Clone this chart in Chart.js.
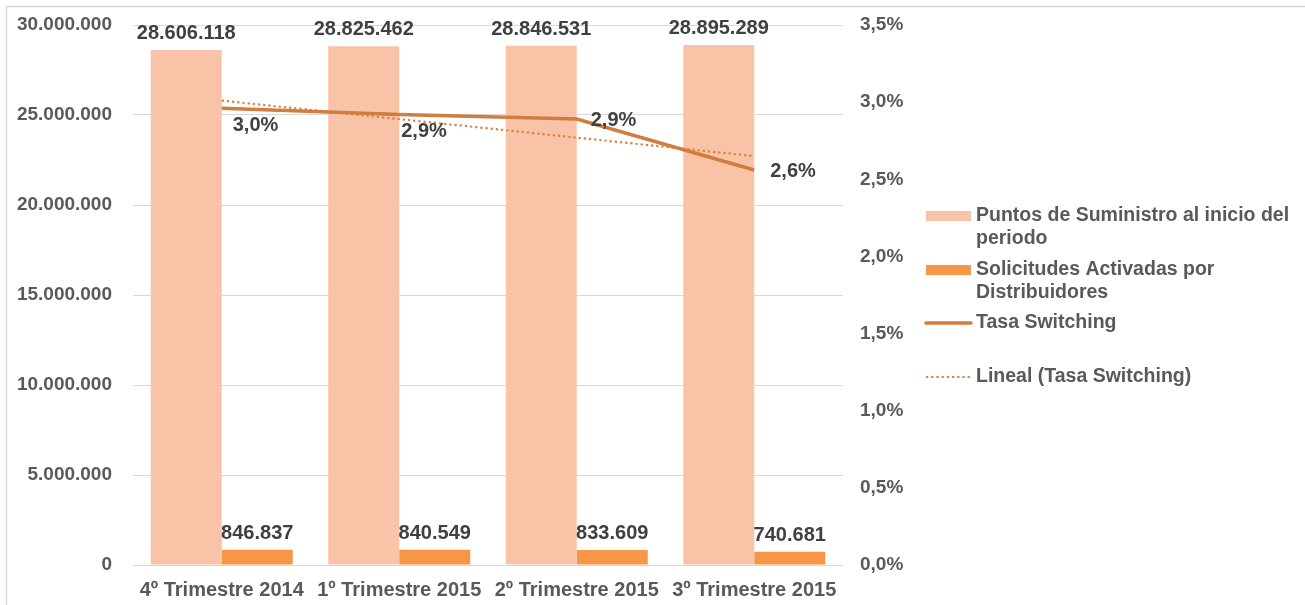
<!DOCTYPE html>
<html>
<head>
<meta charset="utf-8">
<script src="https://cdn.jsdelivr.net/npm/chart.js@4/dist/chart.umd.min.js"></script>
<style>
  html, body { margin: 0; padding: 0; background: #fff; }
  #wrap { position: relative; width: 1305px; height: 605px; }
</style>
</head>
<body>
<div id="wrap"><canvas id="switchingChart" width="1305" height="605"></canvas></div>
<script>
const categories = ["4º Trimestre 2014", "1º Trimestre 2015", "2º Trimestre 2015", "3º Trimestre 2015"];
const puntosSuministro = [28606118, 28825462, 28846531, 28895289];
const solicitudesActivadas = [846837, 840549, 833609, 740681];
const tasaSwitching = [2.96, 2.92, 2.89, 2.56];
const linealTasa = [3.01, 2.89, 2.77, 2.65];
const leftTicks = [0, 5000000, 10000000, 15000000, 20000000, 25000000, 30000000];
const rightTicks = [0, 0.5, 1.0, 1.5, 2.0, 2.5, 3.0, 3.5];

const FONT = "'Liberation Sans', Arial, sans-serif";
const AXIS_COLOR = "#595959";
const LABEL_COLOR = "#404040";

function fmtMiles(v) {
  return String(Math.round(v)).replace(/\B(?=(\d{3})+(?!\d))/g, ".");
}
function fmtPct(v) {
  return v.toFixed(1).replace(".", ",") + "%";
}

/* ===============================
   ETIQUETAS DE DATOS
================================ */
const dataLabelsPlugin = {
  id: "dataLabels",
  afterDatasetsDraw(chart) {
    const ctx = chart.ctx;
    ctx.save();
    ctx.font = "bold 20px " + FONT;
    ctx.fillStyle = LABEL_COLOR;

    // barras: centradas encima
    [0, 1].forEach(i => {
      const meta = chart.getDatasetMeta(i);
      meta.data.forEach((bar, j) => {
        ctx.textAlign = "center";
        ctx.textBaseline = "alphabetic";
        ctx.fillText(fmtMiles(chart.data.datasets[i].data[j]), bar.x, bar.y - 11);
      });
    });

    // tasa switching
    const offsets = [[11, 17], [2, 17], [14, 1], [16, 1]];
    const meta = chart.getDatasetMeta(2);
    meta.data.forEach((pt, j) => {
      ctx.textAlign = "left";
      ctx.textBaseline = "middle";
      ctx.fillText(fmtPct(tasaSwitching[j]), pt.x + offsets[j][0], pt.y + offsets[j][1]);
    });
    ctx.restore();
  }
};

/* ===============================
   LEYENDA + BORDE
================================ */
const sideLegendPlugin = {
  id: "sideLegend",
  beforeDraw(chart) {
    const ctx = chart.ctx;
    ctx.save();
    ctx.strokeStyle = "#D9D9D9";
    ctx.lineWidth = 1.5;
    ctx.beginPath();
    ctx.moveTo(6.5, 605);
    ctx.lineTo(6.5, 6.5);
    ctx.lineTo(1305, 6.5);
    ctx.stroke();
    ctx.restore();
  },
  afterDraw(chart) {
    const ctx = chart.ctx;
    const x0 = 926, x1 = 971, tx = 976, maxW = 325;
    const rows = [216, 270, 323, 377];
    ctx.save();
    ctx.font = "bold 19.5px " + FONT;
    ctx.textBaseline = "middle";
    ctx.textAlign = "left";

    chart.data.datasets.forEach((ds, i) => {
      const y = rows[i];
      if (ds.type === "bar") {
        ctx.fillStyle = ds.backgroundColor;
        ctx.fillRect(x0, y - 5, x1 - x0, 10);
      } else {
        ctx.strokeStyle = ds.borderColor;
        ctx.lineWidth = ds.borderWidth;
        ctx.setLineDash(ds.borderDash || []);
        ctx.lineCap = ds.borderDash ? "butt" : "round";
        ctx.beginPath();
        ctx.moveTo(x0, y);
        ctx.lineTo(x1, y);
        ctx.stroke();
        ctx.setLineDash([]);
      }
      // texto con salto de linea
      ctx.fillStyle = AXIS_COLOR;
      const words = ds.label.split(" ");
      let line = "", ly = y;
      words.forEach(w => {
        const test = line ? line + " " + w : w;
        if (ctx.measureText(test).width > maxW && line) {
          ctx.fillText(line, tx, ly);
          line = w;
          ly += 23;
        } else {
          line = test;
        }
      });
      ctx.fillText(line, tx, ly);
    });
    ctx.restore();
  }
};

const ctx = document.getElementById("switchingChart");

new Chart(ctx, {
  data: {
    labels: categories,
    datasets: [
      {
        type: "bar",
        label: "Puntos de Suministro al inicio del periodo",
        data: puntosSuministro,
        backgroundColor: "#F9C3A7",
        yAxisID: "y",
        order: 3,
        categoryPercentage: 0.8,
        barPercentage: 1.0
      },
      {
        type: "bar",
        label: "Solicitudes Activadas por Distribuidores",
        data: solicitudesActivadas,
        backgroundColor: "#F79646",
        yAxisID: "y",
        order: 3,
        categoryPercentage: 0.8,
        barPercentage: 1.0
      },
      {
        type: "line",
        label: "Tasa Switching",
        data: tasaSwitching,
        borderColor: "#D07D3D",
        borderWidth: 3.5,
        pointRadius: 0,
        tension: 0,
        fill: false,
        yAxisID: "y1",
        order: 1
      },
      {
        type: "line",
        label: "Lineal (Tasa Switching)",
        data: linealTasa,
        borderColor: "#D9813F",
        borderWidth: 2.2,
        borderDash: [2.2, 3],
        pointRadius: 0,
        tension: 0,
        fill: false,
        yAxisID: "y1",
        order: 2
      }
    ]
  },
  options: {
    responsive: false,
    animation: false,
    layout: { padding: { left: 0, right: 392, top: 25, bottom: 0 } },
    plugins: {
      legend: { display: false },
      tooltip: { enabled: false }
    },
    scales: {
      x: {
        grid: { display: false },
        border: { display: false },
        ticks: {
          color: AXIS_COLOR,
          font: { family: FONT, size: 20, weight: "bold" },
          padding: 5,
          maxRotation: 0
        },
        afterFit(scale) { scale.height = 40; }
      },
      y: {
        position: "left",
        min: 0,
        max: 30000000,
        afterBuildTicks(scale) { scale.ticks = leftTicks.map(v => ({ value: v })); },
        grid: { color: "#D9D9D9", lineWidth: 1, drawTicks: false },
        border: { display: false },
        ticks: {
          color: AXIS_COLOR,
          font: { family: FONT, size: 19, weight: "bold" },
          padding: 21,
          callback: v => fmtMiles(v)
        },
        afterFit(scale) {
          scale.width = 133;
          scale.paddingTop = 0;
          scale.paddingBottom = 0;
        }
      },
      y1: {
        position: "right",
        min: 0,
        max: 3.5,
        afterBuildTicks(scale) { scale.ticks = rightTicks.map(v => ({ value: v })); },
        grid: { display: false, drawTicks: false },
        border: { display: false },
        ticks: {
          color: AXIS_COLOR,
          font: { family: FONT, size: 19, weight: "bold" },
          padding: 17,
          callback: v => fmtPct(v)
        },
        afterFit(scale) {
          scale.width = 70;
          scale.paddingTop = 0;
          scale.paddingBottom = 0;
        }
      }
    }
  },
  plugins: [dataLabelsPlugin, sideLegendPlugin]
});
</script>
</body>
</html>
